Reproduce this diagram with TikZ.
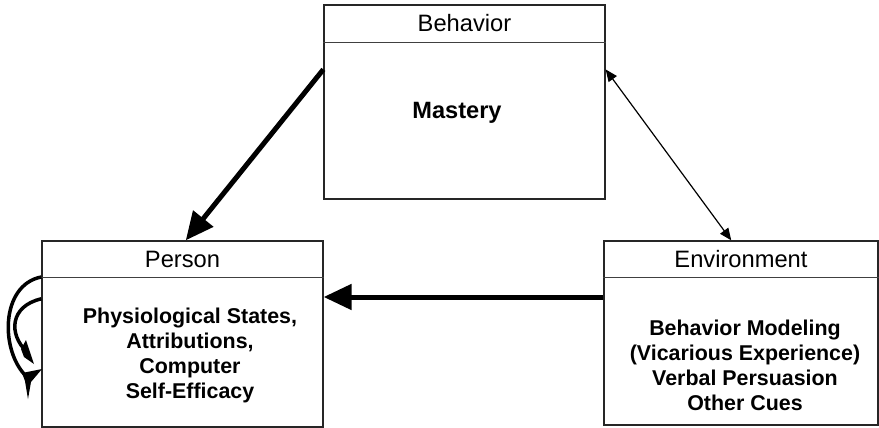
\documentclass[tikz,border=0pt]{standalone}
\usepackage{fontspec}
\setmainfont{Liberation Sans}
\usetikzlibrary{arrows.meta}
\begin{document}
\begin{tikzpicture}[x=1pt,y=-1pt,
  box/.style={draw=black!85, line width=1.3pt, rectangle, inner sep=0pt},
  divider/.style={draw=black!75, line width=1pt},
  head/.style={inner sep=0pt, font=\fontsize{23.7}{28}\selectfont},
  body/.style={inner sep=0pt, align=center, font=\fontsize{21.4}{25}\selectfont\bfseries},
  bigarrow/.style={line width=5pt, -{Triangle[length=28pt,width=25pt]}},
  thinarrow/.style={line width=1.2pt, {Triangle[length=12pt,width=10pt]}-{Triangle[length=12pt,width=10pt]}},
  loopline/.style={line width=3.5pt},
  loophead/.style={fill=black, line join=round}]
\useasboundingbox (0,0) rectangle (879,428);

% the three boxes
\node[box, minimum width=281pt, minimum height=194pt] (beh) at (464.5,102) {};
\node[box, minimum width=281pt, minimum height=186pt] (per) at (182.5,334) {};
\node[box, minimum width=274pt, minimum height=184pt] (env) at (741,333) {};

% header rules
\draw[divider] ([yshift=-38pt]beh.north west) -- ([yshift=-38pt]beh.north east);
\draw[divider] ([yshift=-37pt]per.north west) -- ([yshift=-37pt]per.north east);
\draw[divider] ([yshift=-37pt]env.north west) -- ([yshift=-37pt]env.north east);

% headers
\node[head] (behh) at ([yshift=-19pt]beh.north) {Behavior};
\node[head] (perh) at ([yshift=-19pt]per.north) {Person};
\node[head] (envh) at ([yshift=-19pt]env.north) {Environment};

% contents
\node[body, font=\fontsize{23.6}{28}\selectfont\bfseries] (behb) at (457,113) {Mastery};
\node[body] (perb) at (190,355) {Physiological States,\\Attributions,\\Computer\\Self-Efficacy};
\node[body] (envb) at (745,365) {Behavior Modeling\\(Vicarious Experience)\\Verbal Persuasion\\Other Cues};

% influences
\draw[bigarrow] (beh.167.3) -- (per.88.5);
\draw[bigarrow] ([yshift=36pt]env.west) -- ([yshift=37pt]per.east);
\draw[thinarrow] (beh.13.6) -- (env.96.8);

% self-directed loops on the person box: curved strokes with barbed heads
\coordinate (loopA) at (27,377);
\coordinate (loopB) at (27,352);
\draw[loopline] (per.158.3) .. controls (0,285) and (0,352) .. (loopA);
\fill[loophead] (22,373) -- (42,369) -- (31,382) -- (28,399) -- (25,381) -- cycle;
\draw[loopline] (per.166.4) .. controls (10,306) and (8,334) .. (loopB);
\fill[loophead] (21,349) -- (26,340) -- (34,364) -- (24,357) -- cycle;
\end{tikzpicture}
\end{document}
